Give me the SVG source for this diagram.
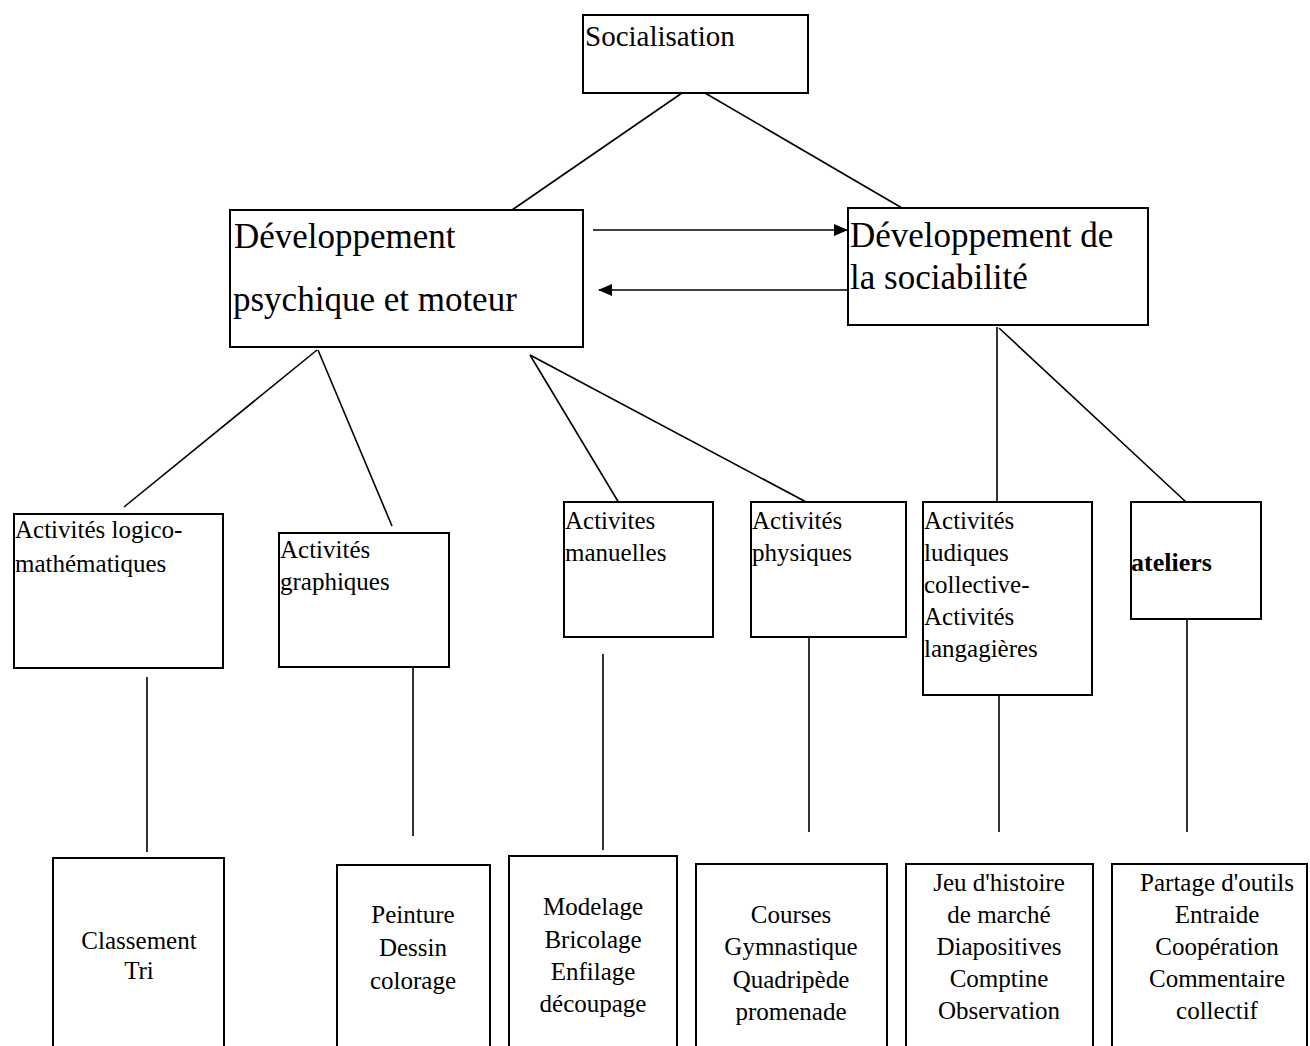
<svg xmlns="http://www.w3.org/2000/svg" width="1310" height="1046" viewBox="0 0 1310 1046">
<style>
.box{fill:#fff;stroke:#000;stroke-width:2}
.ln{stroke:#000;stroke-width:1.6;fill:none}
.t{font-family:"Liberation Serif","Times New Roman",serif;fill:#000}
.big{font-size:35px}
.mid{font-size:25px}
.bot{font-size:25px;text-anchor:middle}
</style>
<defs>
<marker id="ah" viewBox="0 0 14 12" refX="13" refY="6" markerWidth="14" markerHeight="12" markerUnits="userSpaceOnUse" orient="auto">
<path d="M0,0 L14,6 L0,12 z" fill="#000"/>
</marker>
</defs>
<rect width="1310" height="1046" fill="#fff"/>
<g id="connectors">
<line class="ln" x1="682" y1="93" x2="512" y2="210"/>
<line class="ln" x1="705" y1="93" x2="902" y2="208"/>
<line class="ln" x1="593" y1="230" x2="847" y2="230" marker-end="url(#ah)"/>
<line class="ln" x1="848" y1="290" x2="599" y2="290" stroke-width="2.4" marker-end="url(#ah)"/>
<line class="ln" x1="317" y1="350" x2="124" y2="507"/>
<line class="ln" x1="318" y1="350" x2="392" y2="526"/>
<line class="ln" x1="530" y1="355" x2="619" y2="503"/>
<line class="ln" x1="530" y1="355" x2="808" y2="503"/>
<line class="ln" x1="997" y1="327" x2="997" y2="502"/>
<line class="ln" x1="999" y1="328" x2="1186" y2="502" stroke-width="2"/>
<line class="ln" x1="147" y1="677" x2="147" y2="852"/>
<line class="ln" x1="413" y1="640" x2="413" y2="836"/>
<line class="ln" x1="603" y1="654" x2="603" y2="850"/>
<line class="ln" x1="809" y1="638" x2="809" y2="832"/>
<line class="ln" x1="999" y1="695" x2="999" y2="832"/>
<line class="ln" x1="1187" y1="620" x2="1187" y2="832"/>
</g>
<g id="n-socialisation">
<rect class="box" x="583" y="15" width="225" height="78"/>
<text class="t" x="585" y="46" font-size="29">Socialisation</text>
</g>
<g id="n-psychique">
<rect class="box" x="230" y="210" width="353" height="137"/>
<text class="t big" x="234" y="248">Développement</text>
<text class="t big" x="233" y="311">psychique et moteur</text>
</g>
<g id="n-sociabilite">
<rect class="box" x="848" y="208" width="300" height="117"/>
<text class="t big" x="850" y="247">Développement de</text>
<text class="t big" x="850" y="289">la sociabilité</text>
</g>
<g id="n-logico">
<rect class="box" x="14" y="514" width="209" height="154"/>
<text class="t mid" x="15" y="538">Activités logico-</text>
<text class="t mid" x="15" y="572">mathématiques</text>
</g>
<g id="n-graphiques">
<rect class="box" x="279" y="533" width="170" height="134"/>
<text class="t mid" x="280" y="558">Activités</text>
<text class="t mid" x="280" y="590">graphiques</text>
</g>
<g id="n-manuelles">
<rect class="box" x="564" y="502" width="149" height="135"/>
<text class="t mid" x="565" y="529">Activites</text>
<text class="t mid" x="565" y="561">manuelles</text>
</g>
<g id="n-physiques">
<rect class="box" x="751" y="502" width="155" height="135"/>
<text class="t mid" x="752" y="529">Activités</text>
<text class="t mid" x="752" y="561">physiques</text>
</g>
<g id="n-ludiques">
<rect class="box" x="923" y="502" width="169" height="193"/>
<text class="t mid" x="924" y="529">Activités</text>
<text class="t mid" x="924" y="561">ludiques</text>
<text class="t mid" x="924" y="593">collective-</text>
<text class="t mid" x="924" y="625">Activités</text>
<text class="t mid" x="924" y="657">langagières</text>
</g>
<g id="n-ateliers">
<rect class="box" x="1131" y="502" width="130" height="117"/>
<text class="t" x="1131" y="571" font-size="26" font-weight="bold">ateliers</text>
</g>
<g id="n-classement">
<rect class="box" x="53" y="858" width="171" height="210"/>
<text class="t bot" x="139" y="949">Classement</text>
<text class="t bot" x="139" y="979">Tri</text>
</g>
<g id="n-peinture">
<rect class="box" x="337" y="865" width="153" height="210"/>
<text class="t bot" x="413" y="923">Peinture</text>
<text class="t bot" x="413" y="956">Dessin</text>
<text class="t bot" x="413" y="989">colorage</text>
</g>
<g id="n-modelage">
<rect class="box" x="509" y="856" width="168" height="210"/>
<text class="t bot" x="593" y="915">Modelage</text>
<text class="t bot" x="593" y="948">Bricolage</text>
<text class="t bot" x="593" y="980">Enfilage</text>
<text class="t bot" x="593" y="1012">découpage</text>
</g>
<g id="n-courses">
<rect class="box" x="696" y="864" width="191" height="210"/>
<text class="t bot" x="791" y="923">Courses</text>
<text class="t bot" x="791" y="955">Gymnastique</text>
<text class="t bot" x="791" y="988">Quadripède</text>
<text class="t bot" x="791" y="1020">promenade</text>
</g>
<g id="n-jeu">
<rect class="box" x="906" y="864" width="187" height="210"/>
<text class="t bot" x="999" y="891">Jeu d'histoire</text>
<text class="t bot" x="999" y="923">de marché</text>
<text class="t bot" x="999" y="955">Diapositives</text>
<text class="t bot" x="999" y="987">Comptine</text>
<text class="t bot" x="999" y="1019">Observation</text>
</g>
<g id="n-partage">
<rect class="box" x="1112" y="864" width="195" height="210"/>
<text class="t bot" x="1217" y="891">Partage d'outils</text>
<text class="t bot" x="1217" y="923">Entraide</text>
<text class="t bot" x="1217" y="955">Coopération</text>
<text class="t bot" x="1217" y="987">Commentaire</text>
<text class="t bot" x="1217" y="1019">collectif</text>
</g>
</svg>
